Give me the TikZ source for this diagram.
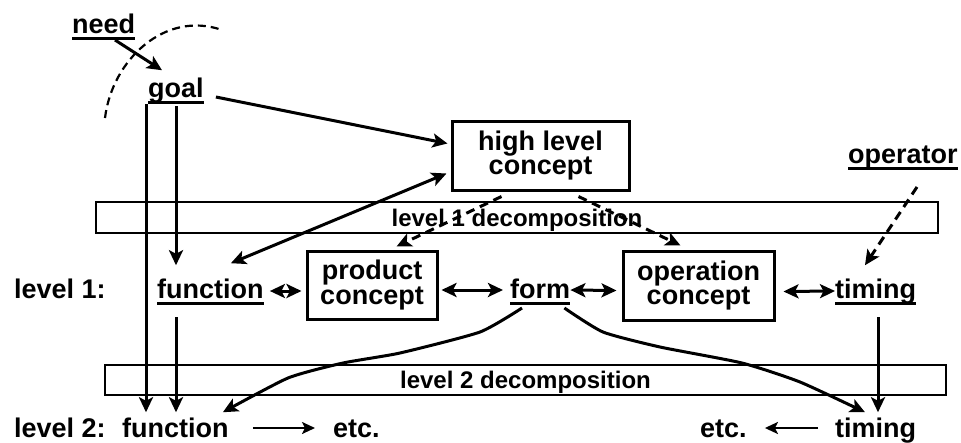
\documentclass[tikz,border=0pt]{standalone}
\usepackage{fontspec}
\setmainfont{Liberation Sans}
\usetikzlibrary{arrows.meta,calc}

\tikzset{
  lbl/.style={font=\bfseries\fontsize{27}{24}\selectfont, inner sep=0pt, anchor=base west},
  boxn/.style={draw, line width=3pt, align=center, inner sep=0pt,
               font=\bfseries\fontsize{27}{24.5}\selectfont},
  band/.style={draw, line width=1.8pt, inner sep=0pt, text height=17pt, text depth=0pt,
               font=\bfseries\fontsize{24}{24}\selectfont},
  tip/.tip={Stealth[length=15pt,width=14pt,inset=3.5pt]},
  conn/.style={line width=3pt, -tip},
  dbl/.style={line width=3pt, tip-tip},
  dconn/.style={conn, dash pattern=on 9pt off 6pt},
  thin/.style={line width=2.4pt, -{Stealth[length=13pt,width=12pt,inset=3pt]}},
  ulline/.style={line width=3pt},
}

\begin{document}
\begin{tikzpicture}[x=1pt,y=-1pt]
\useasboundingbox (0,0) rectangle (961,442);

% decomposition bands
\node[band, minimum width=842pt, minimum height=31pt] (band1) at (517,217.5) {level 1 decomposition};
\node[band, minimum width=841pt, minimum height=30pt] (band2) at (525.5,380) {level 2 decomposition};

% top labels
\node[lbl] (need) at (72,33) {need};
\node[lbl] (goal) at (148,97) {goal};
\node[lbl] (op) at (848,163) {operator};

% concept boxes
\node[boxn, minimum width=177pt, minimum height=69pt] (hlc) at (540.5,155.5) {high level\\concept};
\node[boxn, minimum width=130pt, minimum height=68pt] (pc) at (372,285) {product\\concept};
\node[boxn, minimum width=151pt, minimum height=69pt] (oc) at (698.5,285.5) {operation\\concept};

% level 1 row
\node[lbl] (lv1) at (14,298) {level 1:};
\node[lbl] (fn1) at (157,298) {function};
\node[lbl] (form) at (510,298) {form};
\node[lbl] (tm1) at (835,298) {timing};

% level 2 row
\node[lbl] (lv2) at (14,437) {level 2:};
\node[lbl] (fn2) at (122,437) {function};
\node[lbl] (etcL) at (333,437) {etc.};
\node[lbl] (etcR) at (700,437) {etc.};
\node[lbl] (tm2) at (835,437) {timing};

% underlines
\foreach \n in {need,goal,op,fn1,form,tm1}
  \draw[ulline] ($(\n.base west)+(0,5)$) -- ($(\n.base east)+(0,5)$);

% boundary of the need
\draw[line width=2.2pt, dash pattern=on 8pt off 5pt]
  (105,118) .. controls (112,60) and (165,10) .. (222,30);

% solid connectors
\draw[conn] ($(need.base west)+(43,7)$) -- ($(goal.north west)+(14,-7)$);
\draw[conn] ($(goal.base east)+(12,0)$) -- ($(hlc.west)+(-3,-12)$);
\draw[conn] ($(goal.base west)+(-2,7)$) -- ($(fn2.north west)+(24,-5)$);
\draw[conn] ($(goal.base west)+(28,9)$) -- ($(fn1.north west)+(19,-13)$);
\draw[conn] ($(fn1.base west)+(19,19)$) -- ($(fn2.north west)+(54,-5)$);
\draw[conn] ($(tm1.base west)+(43,19)$) -- ($(tm2.north west)+(43,-5)$);
\draw[dbl] ($(fn1.north east)+(-33,-15)$) -- ($(hlc.south west)+(-4,-18)$);

% level 1 links
\draw[dbl] ($(fn1.base east)+(6,-7)$) -- ($(pc.west)+(-4,6)$);
\draw[dbl] ($(pc.east)+(3,5)$) -- ($(form.base west)+(-7,-8)$);
\draw[dbl] ($(form.base east)+(0,-8)$) -- ($(oc.west)+(-5,5)$);
\draw[dbl] ($(oc.east)+(8,6)$) -- ($(tm1.base west)+(0,-7)$);

% dashed decomposition links
\draw[dconn] ($(hlc.south west)+(51,5)$) -- ($(pc.north east)+(-42,-3)$);
\draw[dconn] ($(hlc.south west)+(128,5)$) -- ($(oc.north west)+(59,-4)$);
\draw[dconn] ($(op.base west)+(69,24)$) -- ($(tm1.north west)+(30,-13)$);

% form feeds both level 2 items
\coordinate (fa) at ($(form.base west)+(12,10)$);
\coordinate (fa1) at (480,332);
\coordinate (fa2) at (400,353);
\coordinate (fa3) at (343,363);
\coordinate (fa4) at (288,378);
\coordinate (fae) at ($(fn2.north east)+(-6,-5)$);
\draw[conn] plot[smooth, tension=0.35] coordinates {(fa) (fa1) (fa2) (fa3) (fa4) (fae)};

\coordinate (fb) at ($(form.base east)+(-6,10)$);
\coordinate (fb1) at (603,332);
\coordinate (fb2) at (660,347);
\coordinate (fb3) at (742,363);
\coordinate (fb4) at (800,382);
\coordinate (fbe) at ($(tm2.north west)+(30,-5)$);
\draw[conn] plot[smooth, tension=0.35] coordinates {(fb) (fb1) (fb2) (fb3) (fb4) (fbe)};

% level 2 continuations
\draw[thin] ($(fn2.base east)+(24,-9)$) -- ($(etcL.base west)+(-18,-9)$);
\draw[thin] ($(tm2.base west)+(-17,-9)$) -- ($(etcR.base east)+(18,-9)$);
\end{tikzpicture}
\end{document}
